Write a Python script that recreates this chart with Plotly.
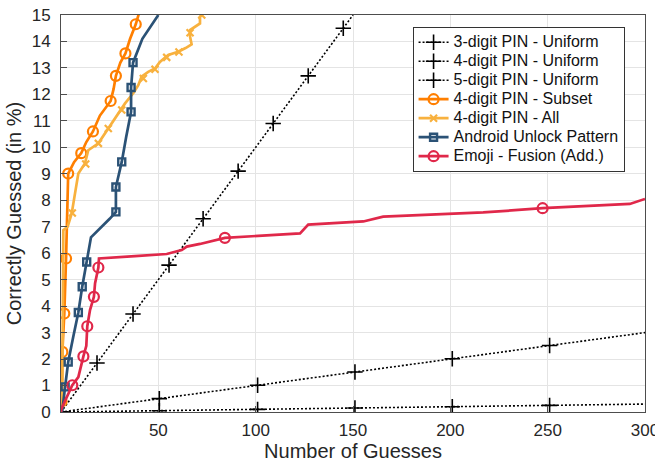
import plotly.graph_objects as go

# ---------------- data ----------------
# Uniform PIN baselines (line endpoints + marker positions)
u3_line_x = [0, 150]
u3_line_y = [0, 15.0]
u3_mark_x = [0, 18.5, 37, 55.5, 73, 91, 109, 127, 145]
u3_mark_y = [0, 1.85, 3.7, 5.55, 7.3, 9.1, 10.9, 12.7, 14.5]

u4_line_x = [0, 300]
u4_line_y = [0, 3.0]
u4_mark_x = [0, 50.5, 101, 151, 201, 251]
u4_mark_y = [0, 0.505, 1.01, 1.51, 2.01, 2.51]

u5_line_x = [0, 300]
u5_line_y = [0, 0.3]
u5_mark_x = [0, 50.5, 101, 151, 201, 251]
u5_mark_y = [0, 0.05, 0.1, 0.15, 0.2, 0.25]

# 4-digit PIN - Subset
sub_x = [0, 0.3, 0.7, 1.7, 2.6, 3.0, 3.7, 6.7, 10.4, 13, 16.4, 20, 25.5, 27, 28.2, 30.5, 33.1, 35.5, 38.4, 40.2]
sub_y = [0, 0.4, 2.27, 3.72, 5.8, 7.5, 9.01, 9.44, 9.78, 10.2, 10.6, 11.2, 11.75, 12.2, 12.7, 13.2, 13.55, 14.1, 14.65, 15.1]
sub_mark_x = [0.3, 0.7, 1.7, 2.6, 3.7, 10.4, 16.4, 25.5, 28.2, 33.1, 38.4]
sub_mark_y = [0.4, 2.27, 3.72, 5.8, 9.01, 9.78, 10.6, 11.75, 12.7, 13.55, 14.65]

# 4-digit PIN - All
all_x = [0, 0.5, 0.7, 1.2, 3.4, 5.5, 7.2, 8.9, 12.3, 14, 19.2, 24.3, 27, 30.3, 32.9, 37.1, 39.7, 41.4,
         44.8, 48.3, 50.8, 55.1, 60.2, 64, 67.1, 66.3, 66.3, 71.4, 71.4, 73.1]
all_y = [0, 0.4, 1.07, 6.87, 7.0, 7.5, 8.26, 9.01, 9.39, 9.89, 10.15, 10.7, 11.0, 11.34, 11.66, 12.04, 12.35, 12.67,
         12.85, 12.98, 13.23, 13.49, 13.61, 13.75, 13.89, 14.18, 14.43, 14.68, 14.93, 15.06]
all_mark_x = [0.5, 5.8, 12.7, 19.2, 24.3, 31.2, 42.3, 48.3, 54.3, 60.6, 66.3, 72.3]
all_mark_y = [0.4, 7.52, 9.37, 10.15, 10.71, 11.41, 12.6, 12.95, 13.4, 13.6, 14.33, 15.0]

# Android Unlock Pattern
and_x = [0, 0.7, 2.1, 3.7, 6.3, 8.9, 10.9, 13.2, 15.4, 25, 28.2, 28.2, 31.2, 33.5, 36, 36, 37, 41.8, 50]
and_y = [0, 0.06, 0.95, 1.89, 2.84, 3.76, 4.73, 5.67, 6.6, 7.3, 7.56, 8.5, 9.45, 10.4, 11.34, 12.26, 13.2, 14.1, 15]
and_mark_x = [2.1, 3.7, 8.9, 10.9, 13.2, 28.2, 28.2, 31.2, 36, 36, 37]
and_mark_y = [0.95, 1.89, 3.76, 4.73, 5.67, 7.56, 8.5, 9.45, 11.34, 12.26, 13.2]

# Emoji - Fusion (Add.)
emo_x = [0, 0.3, 5.8, 8.9, 11.5, 13, 13.5, 14.9, 16.9, 17.5, 19.2, 19.5, 38, 54.3, 62, 64.6, 71.4, 84.2,
         122.8, 127, 155.3, 165.5, 216.9, 247.4, 292.2, 300]
emo_y = [0, 0.13, 1.01, 1.32, 2.1, 2.5, 3.24, 3.85, 4.35, 4.87, 5.46, 5.8, 5.89, 5.97, 6.12, 6.25, 6.35, 6.58,
         6.75, 7.08, 7.2, 7.38, 7.54, 7.7, 7.86, 8.05]
emo_mark_x = [5.8, 11.5, 13.5, 16.9, 19.2, 84.2, 247.4]
emo_mark_y = [1.01, 2.1, 3.24, 4.35, 5.46, 6.58, 7.7]

x_ticks = [50, 100, 150, 200, 250, 300]
y_ticks = list(range(0, 16))

names = ["3-digit PIN - Uniform", "4-digit PIN - Uniform", "5-digit PIN - Uniform",
         "4-digit PIN - Subset", "4-digit PIN - All", "Android Unlock Pattern", "Emoji - Fusion (Add.)"]

# ---------------- styles ----------------
BLACK = "#000000"
ORANGE = "#FF7F00"
LORANGE = "#F8B13E"
BLUE = "#2B5276"
RED = "#E0284A"
FONT = "Liberation Sans, Arial, sans-serif"

series = [
    (u3_line_x, u3_line_y, u3_mark_x, u3_mark_y, BLACK, "2px,2px", 1.6, "cross-thin", 11, 1.6),
    (u4_line_x, u4_line_y, u4_mark_x, u4_mark_y, BLACK, "2px,2px", 1.6, "cross-thin", 11, 1.6),
    (u5_line_x, u5_line_y, u5_mark_x, u5_mark_y, BLACK, "2px,2px", 1.6, "cross-thin", 11, 1.6),
    (sub_x, sub_y, sub_mark_x, sub_mark_y, ORANGE, "solid", 2.7, "circle-open", 10, 2.2),
    (all_x, all_y, all_mark_x, all_mark_y, LORANGE, "solid", 2.7, "x-thin", 7, 2.2),
    (and_x, and_y, and_mark_x, and_mark_y, BLUE, "solid", 2.7, "square-open", 7, 2.4),
    (emo_x, emo_y, emo_mark_x, emo_mark_y, RED, "solid", 2.7, "circle-open", 10, 2.2),
]

fig = go.Figure()
for name, (lx, ly, mx, my, col, dash, lw, sym, ms, mlw) in zip(names, series):
    fig.add_trace(go.Scatter(x=lx, y=ly, mode="lines", showlegend=False, hoverinfo="skip",
                             line=dict(color=col, width=lw, dash=dash)))
    fig.add_trace(go.Scatter(x=mx, y=my, mode="markers", showlegend=False,
                             marker=dict(symbol=sym, size=ms, color=col,
                                         line=dict(color=col, width=mlw))))
for name, (lx, ly, mx, my, col, dash, lw, sym, ms, mlw) in zip(names, series):
    fig.add_trace(go.Scatter(x=[None], y=[None], mode="lines+markers",
                             name="<span style='font-size:16px'>" + name + "</span>",
                             line=dict(color=col, width=lw, dash=dash),
                             marker=dict(symbol=sym, size=ms, color=col,
                                         line=dict(color=col, width=mlw))))

axis_common = dict(
    showgrid=True, gridcolor="#E4E4E4", gridwidth=1,
    showline=True, linecolor="#4D4D4D", linewidth=1, mirror=True,
    ticks="inside", ticklen=6, tickcolor="#4D4D4D", tickwidth=1,
    tickfont=dict(family=FONT, size=17, color="#262626"),
    zeroline=False, automargin=False, ticklabeloverflow="allow",
)

fig.update_layout(
    width=655, height=465,
    margin=dict(l=61, r=10, t=15, b=53),
    paper_bgcolor="white", plot_bgcolor="white",
    font=dict(family=FONT, color="#262626"),
    xaxis=dict(range=[0, 300], tickvals=x_ticks, ticktext=[str(v) for v in x_ticks],
               title=dict(text="Number of Guesses", font=dict(family=FONT, size=20, color="#262626"), standoff=4),
               ticklabelstandoff=3, **axis_common),
    yaxis=dict(range=[0, 15], tickvals=y_ticks, ticktext=[str(v) for v in y_ticks],
               title=dict(text="Correctly Guessed (in %)", font=dict(family=FONT, size=20, color="#262626"), standoff=4),
               ticklabelstandoff=6, **axis_common),
    legend=dict(x=0.602, y=0.9705, xanchor="left", yanchor="top",
                bgcolor="white", bordercolor="#333333", borderwidth=1,
                font=dict(family=FONT, size=12, color="#111111"),
                itemwidth=30, tracegroupgap=0),
    showlegend=True,
)

fig.write_html("out.html", config={"displayModeBar": False},
               post_script="document.body.style.margin='0';document.body.style.padding='0';")
